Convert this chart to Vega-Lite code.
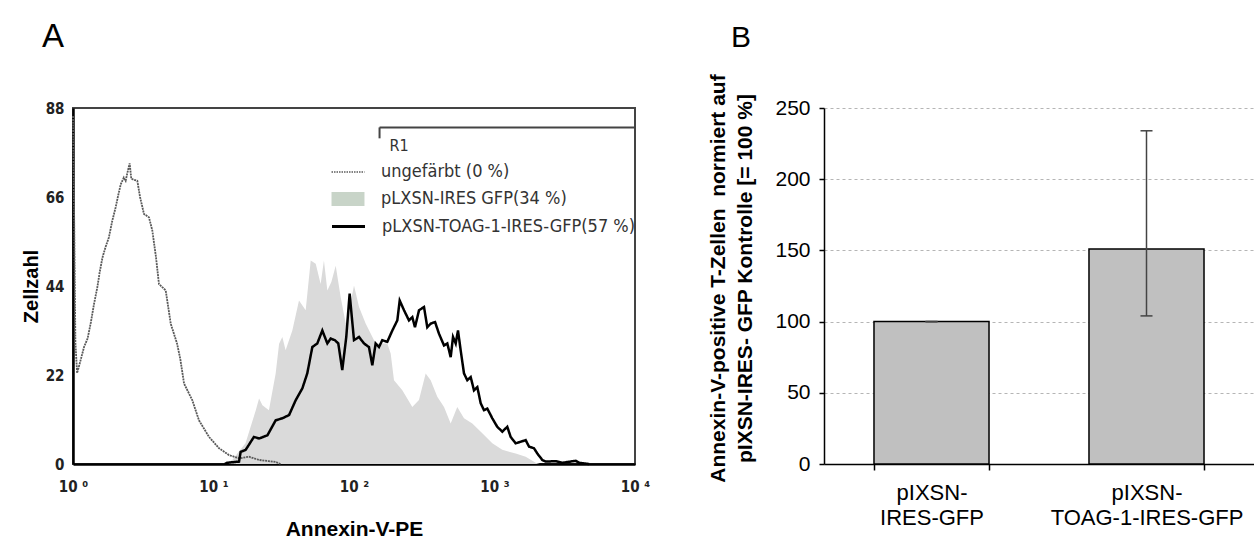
{
  "$schema": "https://vega.github.io/schema/vega-lite/v6.json",
  "background": "white",
  "padding": {"left": 20, "top": 20, "right": 0, "bottom": 0},
  "bounds": "flush",
  "spacing": 189,
  "config": {"font": "Liberation Sans"},
  "datasets": {
    "unstained": [
      {"intensity": 1.0, "count": 86}, {"intensity": 1.02, "count": 60}, {"intensity": 1.04, "count": 30},
      {"intensity": 1.07, "count": 22.5}, {"intensity": 1.12, "count": 25}, {"intensity": 1.2, "count": 29},
      {"intensity": 1.27, "count": 31}, {"intensity": 1.34, "count": 35}, {"intensity": 1.41, "count": 39.5},
      {"intensity": 1.49, "count": 43.7}, {"intensity": 1.55, "count": 47.5}, {"intensity": 1.62, "count": 51},
      {"intensity": 1.7, "count": 53.5}, {"intensity": 1.8, "count": 56}, {"intensity": 1.9, "count": 60},
      {"intensity": 2.01, "count": 63.4}, {"intensity": 2.1, "count": 66.5}, {"intensity": 2.19, "count": 69.2},
      {"intensity": 2.3, "count": 70.8}, {"intensity": 2.37, "count": 70}, {"intensity": 2.44, "count": 72},
      {"intensity": 2.53, "count": 74.3}, {"intensity": 2.6, "count": 70.5}, {"intensity": 2.65, "count": 70.4},
      {"intensity": 2.87, "count": 70}, {"intensity": 3.0, "count": 66}, {"intensity": 3.2, "count": 61.8},
      {"intensity": 3.47, "count": 61}, {"intensity": 3.67, "count": 57.7}, {"intensity": 3.9, "count": 51},
      {"intensity": 4.09, "count": 44.5}, {"intensity": 4.57, "count": 42.9}, {"intensity": 4.96, "count": 34.7},
      {"intensity": 5.5, "count": 29.8}, {"intensity": 5.8, "count": 26}, {"intensity": 6.17, "count": 19.9},
      {"intensity": 7.06, "count": 15.8}, {"intensity": 7.88, "count": 10.8}, {"intensity": 9.29, "count": 6.7},
      {"intensity": 10.95, "count": 3.9}, {"intensity": 12.9, "count": 2.2}, {"intensity": 15.2, "count": 1.4},
      {"intensity": 17.9, "count": 1.8}, {"intensity": 21.1, "count": 1.0}, {"intensity": 24.8, "count": 0.7},
      {"intensity": 27.7, "count": 0.5}, {"intensity": 30, "count": 0}
    ],
    "gfp": [
      {"intensity": 12, "count": 0}, {"intensity": 13.6, "count": 1}, {"intensity": 16.9, "count": 5.1},
      {"intensity": 20.0, "count": 13.3}, {"intensity": 21.1, "count": 16.2}, {"intensity": 22.3, "count": 14.5},
      {"intensity": 24.8, "count": 13.3}, {"intensity": 27.7, "count": 22.4}, {"intensity": 29.3, "count": 29.7},
      {"intensity": 30.9, "count": 31.4}, {"intensity": 32.6, "count": 28.1}, {"intensity": 36.4, "count": 33},
      {"intensity": 40.6, "count": 40.4}, {"intensity": 45.3, "count": 38}, {"intensity": 49.2, "count": 50.3},
      {"intensity": 53.4, "count": 49.5}, {"intensity": 57.9, "count": 44.5}, {"intensity": 61.1, "count": 50.3},
      {"intensity": 64.6, "count": 42.9}, {"intensity": 69, "count": 45}, {"intensity": 74.1, "count": 49},
      {"intensity": 80.4, "count": 41.2}, {"intensity": 87.3, "count": 34.7}, {"intensity": 97.3, "count": 42},
      {"intensity": 100, "count": 44.1}, {"intensity": 108.6, "count": 38.8}, {"intensity": 121, "count": 34.7},
      {"intensity": 142.6, "count": 29.8}, {"intensity": 172.6, "count": 29.8}, {"intensity": 182.4, "count": 27.3},
      {"intensity": 192.6, "count": 20.7}, {"intensity": 220.8, "count": 18.2}, {"intensity": 260, "count": 14.1},
      {"intensity": 290, "count": 15.8}, {"intensity": 323.7, "count": 22.4}, {"intensity": 351.4, "count": 20.7},
      {"intensity": 391.6, "count": 16.6}, {"intensity": 437.2, "count": 14.1}, {"intensity": 487.7, "count": 10},
      {"intensity": 543.3, "count": 14.1}, {"intensity": 606.5, "count": 11.3}, {"intensity": 695, "count": 10},
      {"intensity": 818.6, "count": 7.6}, {"intensity": 964.4, "count": 5.1}, {"intensity": 1136, "count": 3.5},
      {"intensity": 1415, "count": 2.6}, {"intensity": 1667, "count": 1.8}, {"intensity": 1964, "count": 0.3},
      {"intensity": 2100, "count": 0}
    ],
    "toag": [
      {"intensity": 12, "count": 0}, {"intensity": 12.5, "count": 0.3}, {"intensity": 15.2, "count": 0.6},
      {"intensity": 15.6, "count": 3.0}, {"intensity": 16.95, "count": 3.5}, {"intensity": 19.4, "count": 6.7},
      {"intensity": 21.1, "count": 6.3}, {"intensity": 24.2, "count": 7.1}, {"intensity": 27.7, "count": 10.8},
      {"intensity": 30.9, "count": 11.3}, {"intensity": 34.5, "count": 12.1}, {"intensity": 38.5, "count": 15.8},
      {"intensity": 42.9, "count": 18.7}, {"intensity": 46.5, "count": 22.4}, {"intensity": 50.5, "count": 28.9},
      {"intensity": 54.8, "count": 29.8}, {"intensity": 59.5, "count": 33.0}, {"intensity": 64.6, "count": 29.8},
      {"intensity": 68.2, "count": 31}, {"intensity": 73.2, "count": 30.6}, {"intensity": 77.3, "count": 29.8},
      {"intensity": 82.5, "count": 23.2}, {"intensity": 88.1, "count": 31.4}, {"intensity": 93.1, "count": 42.1},
      {"intensity": 100, "count": 30.6}, {"intensity": 108.6, "count": 31.4}, {"intensity": 117.8, "count": 29.8},
      {"intensity": 127.8, "count": 28.9}, {"intensity": 135, "count": 24.4}, {"intensity": 142.6, "count": 29.8},
      {"intensity": 150.6, "count": 28.9}, {"intensity": 158.9, "count": 30.6}, {"intensity": 172.6, "count": 30.2},
      {"intensity": 187.4, "count": 33}, {"intensity": 203.4, "count": 35.5}, {"intensity": 211.5, "count": 40.4},
      {"intensity": 227, "count": 38}, {"intensity": 246.2, "count": 35.5}, {"intensity": 260, "count": 36.3},
      {"intensity": 271.6, "count": 33.8}, {"intensity": 290.2, "count": 38}, {"intensity": 315, "count": 38.8},
      {"intensity": 332.4, "count": 33.8}, {"intensity": 351.4, "count": 34.7}, {"intensity": 377.4, "count": 35.1},
      {"intensity": 402.7, "count": 32.2}, {"intensity": 437.2, "count": 29.3}, {"intensity": 461.5, "count": 29.8},
      {"intensity": 487.7, "count": 26.4}, {"intensity": 506.8, "count": 31.4}, {"intensity": 529.5, "count": 29.8},
      {"intensity": 549.9, "count": 33}, {"intensity": 574.4, "count": 28.1}, {"intensity": 606.5, "count": 22.4},
      {"intensity": 640.2, "count": 20.7}, {"intensity": 676.9, "count": 21.5}, {"intensity": 714.6, "count": 18.2},
      {"intensity": 754.6, "count": 19}, {"intensity": 797.9, "count": 15}, {"intensity": 841.9, "count": 13.3},
      {"intensity": 888.8, "count": 13.7}, {"intensity": 964.4, "count": 11.3}, {"intensity": 1046, "count": 9.2},
      {"intensity": 1136, "count": 8}, {"intensity": 1233, "count": 9.2}, {"intensity": 1303, "count": 6.7},
      {"intensity": 1415, "count": 5.1}, {"intensity": 1535, "count": 5.5}, {"intensity": 1667, "count": 5.9},
      {"intensity": 1761, "count": 4.3}, {"intensity": 1910, "count": 3.9}, {"intensity": 2017, "count": 2.6},
      {"intensity": 2188, "count": 1}, {"intensity": 2312, "count": 0.6}, {"intensity": 2727, "count": 0.7},
      {"intensity": 3040, "count": 0.3}, {"intensity": 3787, "count": 0.8}, {"intensity": 3993, "count": 0.3},
      {"intensity": 4709, "count": 0}
    ],
    "gate": [{"gate": "R1", "start": 152, "end": 10000}],
    "bars": [
      {"construct": "pIXSN-IRES-GFP", "value": 100, "low": 100, "high": 100},
      {"construct": "pIXSN-TOAG-1-IRES-GFP", "value": 151, "low": 104, "high": 234}
    ]
  },
  "hconcat": [
    {
      "width": 562,
      "height": 356,
      "view": {"stroke": "#444", "strokeWidth": 2},
      "title": {"text": "A", "anchor": "start", "frame": "group", "dx": -31, "offset": 21, "baseline": "alphabetic", "fontSize": 33, "fontWeight": "normal", "font": "Liberation Sans", "color": "#000"},
      "layer": [
        {
          "data": {"name": "gfp"},
          "mark": {"type": "area", "interpolate": "linear", "opacity": 1, "fill": "#dadada"},
          "encoding": {
            "x": {"field": "intensity", "type": "quantitative",
              "scale": {"type": "log", "domain": [1, 10000], "nice": false},
              "axis": {"values": [1, 10, 100, 1000, 10000], "labelExpr": "'10 ' + ['⁰','¹','²','³','⁴'][round(log(datum.value)/LN10)]",
                "ticks": false, "grid": false, "domainColor": "#000", "domainWidth": 2.5,
                "labelFont": "DejaVu Sans Condensed", "labelFontWeight": "bold", "labelFontSize": 15, "labelColor": "#222",
                "labelPadding": 15, "labelFlush": false, "labelOverlap": false,
                "title": "Annexin-V-PE", "titleFont": "Liberation Sans", "titleFontSize": 21, "titleFontWeight": "bold", "titleColor": "#000", "titlePadding": 24}},
            "y": {"field": "count", "type": "quantitative",
              "scale": {"domain": [0, 88], "nice": false},
              "axis": {"values": [0, 22, 44, 66, 88], "ticks": false, "grid": false, "domainColor": "#000", "domainWidth": 2.5,
                "labelFont": "DejaVu Sans Condensed", "labelFontWeight": "bold", "labelFontSize": 15, "labelColor": "#222",
                "labelPadding": 9, "labelFlush": false, "labelOverlap": false,
                "title": "Zellzahl", "titleFont": "Liberation Sans", "titleFontSize": 20, "titleFontWeight": "bold", "titleColor": "#000", "titlePadding": 4}},
            "color": {"datum": "pLXSN-IRES GFP(34 %)", "type": "nominal",
              "scale": {"range": ["#c8d4c8"]},
              "legend": {"title": null, "orient": "none", "legendX": 266, "legendY": 82, "padding": 0,
                "symbolType": "M-2.06,-0.875H2.06V0.875H-2.06Z", "symbolSize": 256, "symbolStrokeWidth": 0,
                "labelFont": "DejaVu Sans Condensed", "labelFontSize": 18, "labelColor": "#333", "labelOffset": 24, "labelLimit": 400}}
          }
        },
        {
          "data": {"name": "unstained"},
          "mark": {"type": "line", "strokeWidth": 1.8, "strokeDash": [2, 0.8]},
          "encoding": {
            "x": {"field": "intensity", "type": "quantitative", "scale": {"type": "log", "domain": [1, 10000], "nice": false}},
            "y": {"field": "count", "type": "quantitative", "scale": {"domain": [0, 88], "nice": false}},
            "stroke": {"datum": "ungefärbt (0 %)", "type": "nominal",
              "scale": {"range": ["#5a5a5a"]},
              "legend": {"title": null, "orient": "none", "legendX": 266, "legendY": 55, "padding": 0,
                "symbolType": "M-2.06,0H2.06", "symbolSize": 256, "symbolStrokeWidth": 1.5, "symbolDash": [1.5, 1],
                "labelFont": "DejaVu Sans Condensed", "labelFontSize": 18, "labelColor": "#333", "labelOffset": 24, "labelLimit": 400}}
          }
        },
        {
          "data": {"name": "toag"},
          "mark": {"type": "line", "strokeWidth": 2.5, "color": "#000000"},
          "encoding": {
            "x": {"field": "intensity", "type": "quantitative", "scale": {"type": "log", "domain": [1, 10000], "nice": false}},
            "y": {"field": "count", "type": "quantitative", "scale": {"domain": [0, 88], "nice": false}},
            "strokeDash": {"datum": "pLXSN-TOAG-1-IRES-GFP(57 %)", "type": "nominal",
              "scale": {"range": [[1, 0]]},
              "legend": {"title": null, "orient": "none", "legendX": 266, "legendY": 109, "padding": 0,
                "symbolType": "M-2.06,0H2.06", "symbolSize": 256, "symbolStrokeWidth": 3, "symbolStrokeColor": "#000000",
                "labelFont": "DejaVu Sans Condensed", "labelFontSize": 18, "labelColor": "#333", "labelOffset": 24, "labelLimit": 400}}
          }
        },
        {
          "data": {"name": "gate"},
          "mark": {"type": "rule", "color": "#444", "strokeWidth": 2},
          "encoding": {
            "x": {"field": "start", "type": "quantitative", "scale": {"type": "log", "domain": [1, 10000], "nice": false}},
            "x2": {"field": "end"},
            "y": {"datum": 83.2, "type": "quantitative"}
          }
        },
        {
          "data": {"name": "gate"},
          "mark": {"type": "rule", "color": "#444", "strokeWidth": 2},
          "encoding": {
            "x": {"field": "start", "type": "quantitative", "scale": {"type": "log", "domain": [1, 10000], "nice": false}},
            "y": {"datum": 83.2, "type": "quantitative"},
            "y2": {"datum": 80.5}
          }
        },
        {
          "data": {"name": "gate"},
          "mark": {"type": "text", "align": "left", "baseline": "middle", "dx": 10, "font": "DejaVu Sans Condensed", "fontSize": 16, "color": "#333"},
          "encoding": {
            "x": {"field": "start", "type": "quantitative", "scale": {"type": "log", "domain": [1, 10000], "nice": false}},
            "y": {"datum": 78.6, "type": "quantitative"},
            "text": {"field": "gate"}
          }
        }
      ]
    },
    {
      "width": 430,
      "height": 356,
      "view": {"stroke": null},
      "title": {"text": "B", "anchor": "start", "frame": "group", "dx": -93, "offset": -3, "baseline": "alphabetic", "fontSize": 30, "fontWeight": "normal", "font": "Liberation Sans", "color": "#000"},
      "data": {"name": "bars"},
      "layer": [
        {
          "mark": {"type": "bar", "fill": "#c0c0c0", "stroke": "#000", "strokeWidth": 1.5},
          "encoding": {
            "x": {"field": "construct", "type": "nominal", "sort": null,
              "scale": {"paddingInner": 0.465, "paddingOuter": 0.2325},
              "axis": {"title": null, "labelAngle": 0, "labelExpr": "datum.label ? ['pIXSN-', replace(datum.label, 'pIXSN-', '')] : ''",
                "labelFont": "Liberation Sans", "labelFontSize": 22, "labelLineHeight": 25, "labelColor": "#000", "labelPadding": 12, "labelLimit": 300,
                "tickBand": "extent", "tickSize": 6, "tickColor": "#000", "tickWidth": 1.5, "domainColor": "#000", "domainWidth": 1.5}},
            "y": {"field": "value", "type": "quantitative",
              "scale": {"domain": [0, 250], "nice": false},
              "axis": {"values": [0, 50, 100, 150, 200, 250],
                "title": ["Annexin-V-positive T-Zellen\u00a0 normiert auf", "pIXSN-IRES- GFP Kontrolle [= 100 %]"],
                "titleFont": "Liberation Sans", "titleFontSize": 21, "titleFontWeight": "bold", "titleLineHeight": 27, "titlePadding": 19, "titleColor": "#000", "titleY": 170,
                "labelFont": "Liberation Sans", "labelFontSize": 21, "labelColor": "#000", "labelPadding": 9,
                "tickSize": 5, "tickColor": "#000", "tickWidth": 1.5, "domainColor": "#000", "domainWidth": 1.5,
                "grid": true, "gridDash": [3, 3], "gridColor": "#b5b5b5", "gridWidth": 1}}
          }
        },
        {
          "mark": {"type": "rule", "color": "#444", "strokeWidth": 1.5},
          "encoding": {
            "x": {"field": "construct", "type": "nominal", "sort": null},
            "y": {"field": "low", "type": "quantitative"},
            "y2": {"field": "high"}
          }
        },
        {
          "mark": {"type": "tick", "color": "#444", "size": 12, "thickness": 1.5, "opacity": 1},
          "encoding": {
            "x": {"field": "construct", "type": "nominal", "sort": null},
            "y": {"field": "high", "type": "quantitative"}
          }
        },
        {
          "mark": {"type": "tick", "color": "#444", "size": 12, "thickness": 1.5, "opacity": 1},
          "encoding": {
            "x": {"field": "construct", "type": "nominal", "sort": null},
            "y": {"field": "low", "type": "quantitative"}
          }
        }
      ]
    }
  ]
}
